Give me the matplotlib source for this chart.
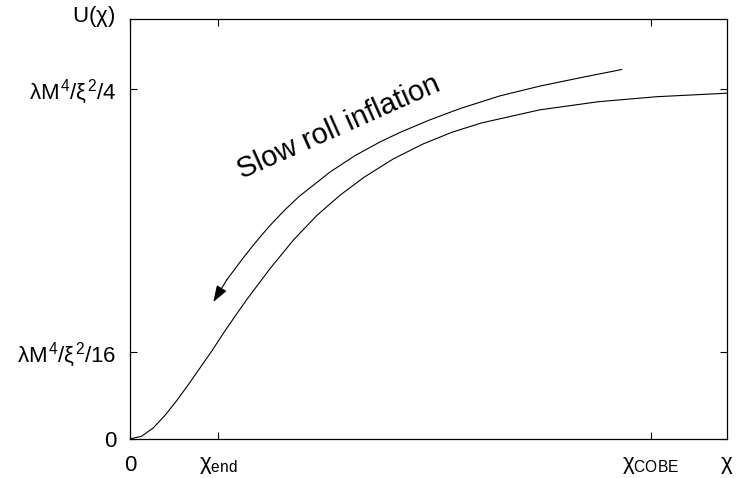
import numpy as np
import matplotlib
matplotlib.use('Agg')
import matplotlib.pyplot as plt

plt.rcParams['font.family'] = ['Liberation Sans', 'DejaVu Sans']
plt.rcParams['mathtext.fontset'] = 'custom'
plt.rcParams['mathtext.rm'] = 'Liberation Sans'
plt.rcParams['mathtext.it'] = 'Liberation Sans'
plt.rcParams['mathtext.bf'] = 'Liberation Sans:bold'

# potential U(chi) (y in units of lambda M^4 / xi^2)
chi = [0.0, 0.1, 0.2, 0.3, 0.4, 0.5, 0.6, 0.7, 0.8, 0.9, 1.0, 1.2, 1.4, 1.6,
       1.8, 2.0, 2.25, 2.5, 2.75, 3.0, 3.5, 4.0, 4.5, 5.1]
U = [0.0, 0.002, 0.008, 0.017, 0.0275, 0.039, 0.051, 0.063, 0.0758, 0.088,
     0.0999, 0.1221, 0.1425, 0.1600, 0.1745, 0.1870, 0.2001, 0.2106, 0.2191,
     0.2257, 0.2351, 0.2409, 0.2445, 0.2470]

# slow-roll arrow path (from arrow tip to upper end)
arrow_x = [0.712, 0.826, 0.954, 1.025, 1.110, 1.196, 1.320, 1.444, 1.709, 1.922,
           2.136, 2.307, 2.563, 2.819, 3.161, 3.503, 3.844, 4.200]
arrow_y = [0.0979, 0.1136, 0.1279, 0.1355, 0.1442, 0.1525, 0.1634, 0.1732, 0.1907,
           0.2024, 0.2122, 0.2190, 0.2280, 0.2360, 0.2451, 0.2521, 0.2580, 0.2639]

x_ticks = [0, 0.752, 4.451]
x_labels = ['0', r'$\chi_{\mathrm{end}}$', r'$\chi_{\mathrm{COBE}}$']
y_ticks = [0, 1 / 16, 1 / 4]
y_labels = ['0', r'$\lambda M^4/\xi^2/16$', r'$\lambda M^4/\xi^2/4$']

fig = plt.figure(figsize=(7.37, 4.78), dpi=100)
ax = fig.add_axes([130 / 737, 39 / 478, 597 / 737, 420 / 478])

ax.plot(chi, U, color='black', lw=0.8)
ax.plot(arrow_x[1:], arrow_y[1:], color='black', lw=0.8)
ax.annotate('', xy=(arrow_x[0], arrow_y[0]), xytext=(arrow_x[1], arrow_y[1]),
            arrowprops=dict(arrowstyle='-|>,head_length=1.0,head_width=0.35',
                            color='black', lw=0.8, shrinkA=0, shrinkB=0))

ax.text(1.786, 0.2229, 'Slow roll inflation', rotation=24, fontsize=21,
        ha='center', va='center', rotation_mode='anchor')

ax.set_xlim(0, 5.1)
ax.set_ylim(0, 0.3)
ax.set_xticks(x_ticks)
ax.set_xticklabels(x_labels)
ax.set_yticks(y_ticks)
ax.set_yticklabels(y_labels)
ax.tick_params(direction='in', length=5, width=0.8, top=True, right=True,
               labelsize=16, color='black')
ax.tick_params(axis='x', pad=11.5)
ax.tick_params(axis='y', pad=10)
for s in ax.spines.values():
    s.set_linewidth(0.9)

# axis names at the corners, as in the original
ax.annotate(r'U($\chi$)', xy=(0, 1), xycoords='axes fraction', xytext=(-11, 2),
            textcoords='offset points', ha='right', va='center', fontsize=16)
ax.annotate(r'$\chi$', xy=(1.0, 0), xycoords='axes fraction', xytext=(0, -11.5),
            textcoords='offset points', ha='center', va='top', fontsize=16)

fig.savefig('out.png', dpi=100)
